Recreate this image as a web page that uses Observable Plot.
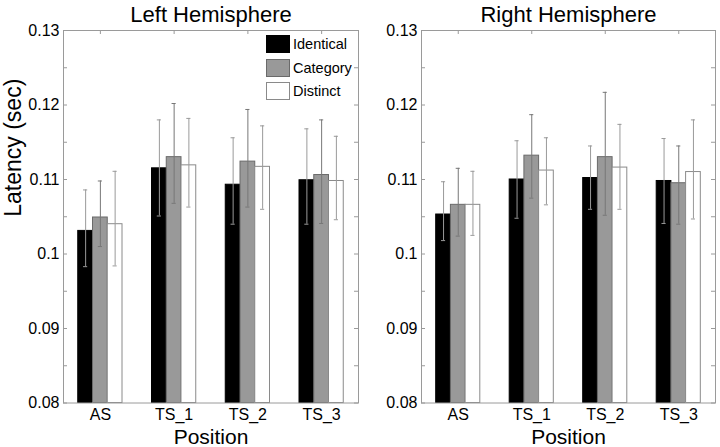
<!DOCTYPE html>
<html>
<head>
<meta charset="utf-8">
<script src="https://cdn.jsdelivr.net/npm/d3@7"></script>
<script src="https://cdn.jsdelivr.net/npm/@observablehq/plot@0.6"></script>
<style>
  html, body { margin: 0; padding: 0; background: #fff; }
  #wrap { position: relative; width: 720px; height: 447px; display: flex; font-family: "Liberation Sans", Arial, sans-serif; }
  #wrap svg { font-family: "Liberation Sans", Arial, sans-serif !important; }
  #legend { position: absolute; left: 266px; top: 35px; font-size: 14.5px; color: #000; }
  .item { display: flex; align-items: center; height: 18px; margin-bottom: 5.5px; }
  .sw { width: 22px; height: 16px; margin-right: 3px; box-sizing: content-box; }
</style>
</head>
<body>
<div id="wrap"><div id="legend"></div></div>
<script>
// ---- data ----
const positions = ["AS", "TS_1", "TS_2", "TS_3"];
const conditions = ["Identical", "Category", "Distinct"];
const yTicks = [0.08, 0.09, 0.1, 0.11, 0.12, 0.13];
const yMinorTicks = [0.085, 0.095, 0.105, 0.115, 0.125];

// Left hemisphere
const leftIdentical   = [0.1031, 0.1115, 0.1093, 0.1099];
const leftIdenticalLo = [0.0983, 0.1051, 0.1040, 0.1040];
const leftIdenticalHi = [0.1086, 0.1180, 0.1156, 0.1168];
const leftCategory    = [0.1049, 0.1130, 0.1124, 0.1106];
const leftCategoryLo  = [0.1010, 0.1068, 0.1063, 0.1041];
const leftCategoryHi  = [0.1098, 0.1202, 0.1194, 0.1180];
const leftDistinct    = [0.1040, 0.1119, 0.1117, 0.1098];
const leftDistinctLo  = [0.0984, 0.1063, 0.1060, 0.1046];
const leftDistinctHi  = [0.1111, 0.1182, 0.1172, 0.1158];

// Right hemisphere
const rightIdentical   = [0.1053, 0.1100, 0.1102, 0.1098];
const rightIdenticalLo = [0.1018, 0.1048, 0.1060, 0.1041];
const rightIdenticalHi = [0.1097, 0.1152, 0.1145, 0.1155];
const rightCategory    = [0.1066, 0.1132, 0.1130, 0.1095];
const rightCategoryLo  = [0.1024, 0.1075, 0.1052, 0.1040];
const rightCategoryHi  = [0.1115, 0.1187, 0.1217, 0.1145];
const rightDistinct    = [0.1066, 0.1112, 0.1116, 0.1110];
const rightDistinctLo  = [0.1025, 0.1066, 0.1060, 0.1047];
const rightDistinctHi  = [0.1111, 0.1156, 0.1174, 0.1180];

// ---- styles ----
const fills   = ["#000000", "#999999", "#ffffff"];
const strokes = ["#000000", "#6a6a6a", "#8a8a8a"];
const errColors = ["#9a9a9a", "#777777", "#9a9a9a"];
const offsets = [-0.2, 0, 0.2];   // grouped-bar layout (group units)
const barWidth = 0.2;
const capHalf = 0.028;
const FONT = "'Liberation Sans', Arial, sans-serif";
const W = 360, H = 447, MT = 30, MB = 44.5;

function rowsFor(means, los, his) {
  return conditions.flatMap((c, ci) => positions.map((p, pi) => ({
    pos: pi + 1, cond: c, ci,
    mean: means[ci][pi], lo: los[ci][pi], hi: his[ci][pi]
  })));
}

function panel(rows, title, showYLabel, ML, MR) {
  const pw = W - ML - MR, ph = H - MT - MB;
  const cx = d => d.pos + offsets[d.ci];
  const marks = [
    Plot.rectY(rows, {
      x1: d => cx(d) - barWidth / 2, x2: d => cx(d) + barWidth / 2,
      y1: yTicks[0], y2: "mean",
      fill: d => fills[d.ci], stroke: d => strokes[d.ci], strokeWidth: 1
    }),
    Plot.ruleX(rows, { x: cx, y1: "lo", y2: "hi", stroke: d => errColors[d.ci], strokeWidth: 1 }),
    Plot.ruleY(rows, { x1: d => cx(d) - capHalf, x2: d => cx(d) + capHalf, y: "lo", stroke: d => errColors[d.ci] }),
    Plot.ruleY(rows, { x1: d => cx(d) - capHalf, x2: d => cx(d) + capHalf, y: "hi", stroke: d => errColors[d.ci] }),
    Plot.frame({ stroke: "#9a9a9a" }),
    Plot.ruleY([...yTicks, ...yMinorTicks], { insetRight: pw - 4, stroke: "#9a9a9a" }),
    Plot.ruleY([...yTicks, ...yMinorTicks], { insetLeft: pw - 4, stroke: "#9a9a9a" }),
    Plot.ruleX(positions.map((p, i) => i + 1), { insetBottom: ph - 4, stroke: "#9a9a9a" }),
    Plot.axisY({ ticks: yTicks, tickSize: 0, tickPadding: 4, tickFormat: d => String(+d.toFixed(3)), fontSize: 16, fontFamily: FONT }),
    Plot.axisX({ ticks: positions.map((p, i) => i + 1), tickSize: 0, tickPadding: 6, tickFormat: i => positions[i - 1], fontSize: 16, fontFamily: FONT, label: null }),
    Plot.text([title], { text: d => d, frameAnchor: "top", lineAnchor: "bottom", dy: -9, fontSize: 22, fontFamily: FONT, fill: "#000" }),
    Plot.text(["Position"], { text: d => d, frameAnchor: "bottom", lineAnchor: "bottom", dy: 40.5, fontSize: 21, fontFamily: FONT, fill: "#000" })
  ];
  if (showYLabel) {
    marks.push(Plot.text(["Latency (sec)"], { text: d => d, frameAnchor: "left", rotate: -90, lineAnchor: "bottom", dx: -43, fontSize: 23, fontFamily: FONT, fill: "#000" }));
  }
  return Plot.plot({
    width: W, height: H,
    marginTop: MT, marginBottom: MB, marginLeft: ML, marginRight: MR,
    style: { fontFamily: FONT, fontSize: "16px", color: "#000", background: "#fff", overflow: "visible" },
    x: { type: "linear", domain: [0.5, positions.length + 0.5], axis: null },
    y: { domain: [yTicks[0], yTicks[yTicks.length - 1]], axis: null },
    marks
  });
}

const wrap = document.getElementById("wrap");
const left = panel(
  rowsFor([leftIdentical, leftCategory, leftDistinct],
          [leftIdenticalLo, leftCategoryLo, leftDistinctLo],
          [leftIdenticalHi, leftCategoryHi, leftDistinctHi]),
  "Left Hemisphere", true, 63, 2);
const right = panel(
  rowsFor([rightIdentical, rightCategory, rightDistinct],
          [rightIdenticalLo, rightCategoryLo, rightDistinctLo],
          [rightIdenticalHi, rightCategoryHi, rightDistinctHi]),
  "Right Hemisphere", false, 61, 5);
wrap.insertBefore(left, wrap.firstChild);
wrap.insertBefore(right, document.getElementById("legend"));

// legend
const legend = d3.select("#legend");
conditions.forEach((c, i) => {
  const item = legend.append("div").attr("class", "item");
  item.append("div").attr("class", "sw")
    .style("background", fills[i]).style("border", `1px solid ${strokes[i]}`);
  item.append("span").text(c);
});
</script>
</body>
</html>
